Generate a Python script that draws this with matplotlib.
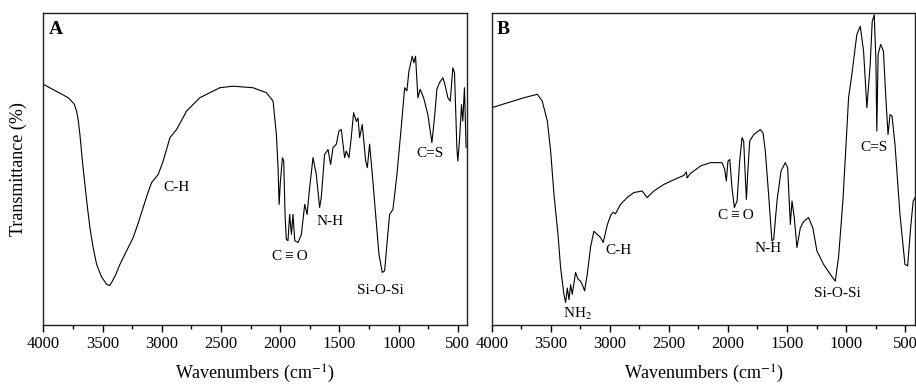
import numpy as np
import matplotlib
matplotlib.use("Agg")
from matplotlib import pyplot as plt
from matplotlib.ticker import MultipleLocator

plt.rcParams['font.family'] = ['Liberation Serif', 'DejaVu Serif']
plt.rcParams['mathtext.fontset'] = 'stix'

# Panel A spectrum (wavenumber, transmittance in arbitrary %)
wn_a = [4000, 3789, 3740, 3719, 3705, 3691, 3670, 3649, 3627, 3606, 3578, 3550, 3510,
        3466, 3440, 3424, 3390, 3353, 3300, 3241, 3200, 3157, 3120, 3086,
        3030, 2988, 2931, 2875, 2791, 2679, 2510, 2398, 2229, 2116, 2060, 2032, 2018,
        2009, 1998, 1981, 1970, 1959, 1948, 1934, 1920, 1905, 1892, 1877, 1849, 1821,
        1793, 1773, 1751, 1723, 1695, 1667, 1653, 1625, 1596, 1574, 1554, 1526, 1504,
        1484, 1456, 1442, 1419, 1400, 1380, 1357, 1343, 1329, 1307, 1278, 1264, 1245,
        1222, 1194, 1166, 1138, 1118, 1096, 1076, 1048, 1014, 978, 949, 930, 913, 885,
        871, 857, 837, 818, 789, 753, 719, 697, 677, 655, 626, 609, 584, 564, 542, 528,
        508, 500, 486, 469, 458, 444, 430]
tr_a = [77.1, 72.8, 70.8, 68.5, 65.5, 61.0, 52.5, 45.0, 37.5, 31.0, 24.5, 19.4, 15.5,
        13.0, 12.6, 13.5, 16.0, 19.4, 23.5, 28.0, 32.5, 37.6, 42.0, 45.6,
        48.2, 52.5, 60.0, 62.6, 68.5, 72.8, 76.0, 76.5, 76.0, 74.4, 71.7, 61.0, 50.4,
        38.6, 46.0, 53.6, 52.5, 35.4, 27.4, 27.0, 35.4, 29.0, 35.4, 27.0, 26.4, 29.0,
        38.6, 35.4, 44.0, 53.6, 48.2, 37.6, 40.8, 54.6, 56.2, 51.4, 56.8, 57.9, 62.1,
        62.6, 53.6, 55.7, 53.6, 60.0, 68.0, 65.2, 66.3, 60.0, 64.2, 52.5, 50.4, 57.9,
        48.2, 35.4, 22.6, 16.8, 17.3, 27.0, 35.4, 37.0, 48.2, 63.2, 76.0, 75.0, 81.3,
        86.1, 84.0, 86.1, 72.8, 75.5, 72.8, 67.4, 58.4, 66.4, 75.5, 77.6, 79.2, 77.0,
        72.8, 71.7, 82.4, 80.8, 56.8, 52.5, 59.0, 70.6, 65.3, 76.0, 56.8]

# Panel B spectrum
wn_b = [4000, 3727, 3614, 3572, 3529, 3501, 3473, 3439, 3417, 3389, 3374, 3360, 3346,
        3332, 3318, 3290, 3270, 3248, 3228, 3214, 3191, 3163, 3135, 3107, 3079, 3056,
        3022, 2994, 2972, 2952, 2910, 2853, 2797, 2726, 2684, 2628, 2543, 2459, 2374,
        2352, 2346, 2318, 2233, 2149, 2050, 2028, 2014, 2000, 1985, 1966, 1946, 1923,
        1901, 1881, 1867, 1853, 1844, 1833, 1816, 1782, 1726, 1703, 1684, 1656, 1628,
        1613, 1585, 1551, 1515, 1495, 1472, 1458, 1439, 1416, 1388, 1360, 1318, 1281,
        1247, 1191, 1134, 1092, 1064, 1027, 999, 979, 951, 909, 880, 852, 824, 796,
        779, 762, 748, 740, 729, 707, 684, 662, 645, 628, 611, 586, 544, 502, 479, 454,
        432, 416]
tr_b = [69.6, 72.8, 73.9, 71.7, 65.3, 55.7, 41.8, 29.0, 18.4, 9.8, 7.2, 11.8, 8.1,
        12.9, 9.8, 16.8, 14.7, 14.0, 12.4, 10.9, 16.2, 25.0, 30.0, 29.0, 28.0, 26.4,
        32.0, 35.0, 36.1, 35.6, 38.6, 40.8, 42.4, 42.9, 40.8, 42.9, 45.0, 46.5, 47.9,
        49.0, 47.1, 48.5, 50.9, 52.0, 52.0, 49.9, 46.1, 52.5, 53.0, 44.0, 37.6, 39.7,
        52.5, 60.0, 58.9, 47.2, 40.2, 48.3, 58.9, 61.0, 62.6, 61.5, 55.7, 41.8, 26.9,
        27.4, 39.7, 49.3, 52.0, 50.4, 32.2, 39.7, 34.4, 24.8, 31.0, 33.1, 34.4, 31.0,
        23.7, 19.4, 16.2, 14.0, 21.6, 39.7, 58.9, 72.8, 80.3, 93.1, 95.7, 87.7, 69.6,
        83.5, 97.2, 99.4, 85.6, 62.1, 86.7, 89.9, 87.7, 71.7, 61.0, 67.4, 66.9, 57.8,
        35.4, 19.4, 18.9, 31.0, 39.7, 40.8]

# band labels: (text, wavenumber, transmittance)
co = "C\u2009\u2261\u2009O"
labels_a = [("C-H", 2875, 44), (co, 1920, 22), ("N-H", 1582, 33),
            ("Si-O-Si", 1152, 11), ("C=S", 739, 55)]
labels_b = [("NH$_2$", 3276, 3.4), ("C-H", 2924, 23.7), (co, 1929, 34.9),
            ("N-H", 1661, 24.6), ("Si-O-Si", 1070, 10), ("C=S", 762, 57)]

fig = plt.figure(figsize=(9.16, 3.84), dpi=100)
ax_a = fig.add_axes([0.0473, 0.154, 0.4622, 0.8125])
ax_b = fig.add_axes([0.5368, 0.154, 0.4622, 0.8125])

panels = [(ax_a, wn_a, tr_a, labels_a, "A", 425),
          (ax_b, wn_b, tr_b, labels_b, "B", 416)]

for ax, wn, tr, labels, tag, xmin in panels:
    ax.plot(wn, tr, color="black", linewidth=0.8)
    ax.set_xlim(4000, xmin)
    ax.set_ylim(0, 100)
    ax.set_yticks([])
    ax.xaxis.set_major_locator(MultipleLocator(500))
    ax.xaxis.set_minor_locator(MultipleLocator(250))
    ax.tick_params(axis="x", which="major", direction="out", length=5, width=1,
                   labelsize=12, pad=3, top=False)
    ax.tick_params(axis="x", which="minor", direction="out", length=3, width=1, top=False)
    for sp in ax.spines.values():
        sp.set_linewidth(1.0)
        sp.set_color("#222222")
    ax.set_xlabel("Wavenumbers (cm$^{-1}$)", fontsize=13, labelpad=8)
    ax.text(0.012, 0.975, tag, transform=ax.transAxes, fontsize=14,
            fontweight="bold", va="top", ha="left")
    for txt, x, y in labels:
        ax.text(x, y, txt, fontsize=11, ha="center", va="center")

ax_a.set_ylabel("Transmittance (%)", fontsize=13, labelpad=12)

fig.savefig("out.png", dpi=100)
